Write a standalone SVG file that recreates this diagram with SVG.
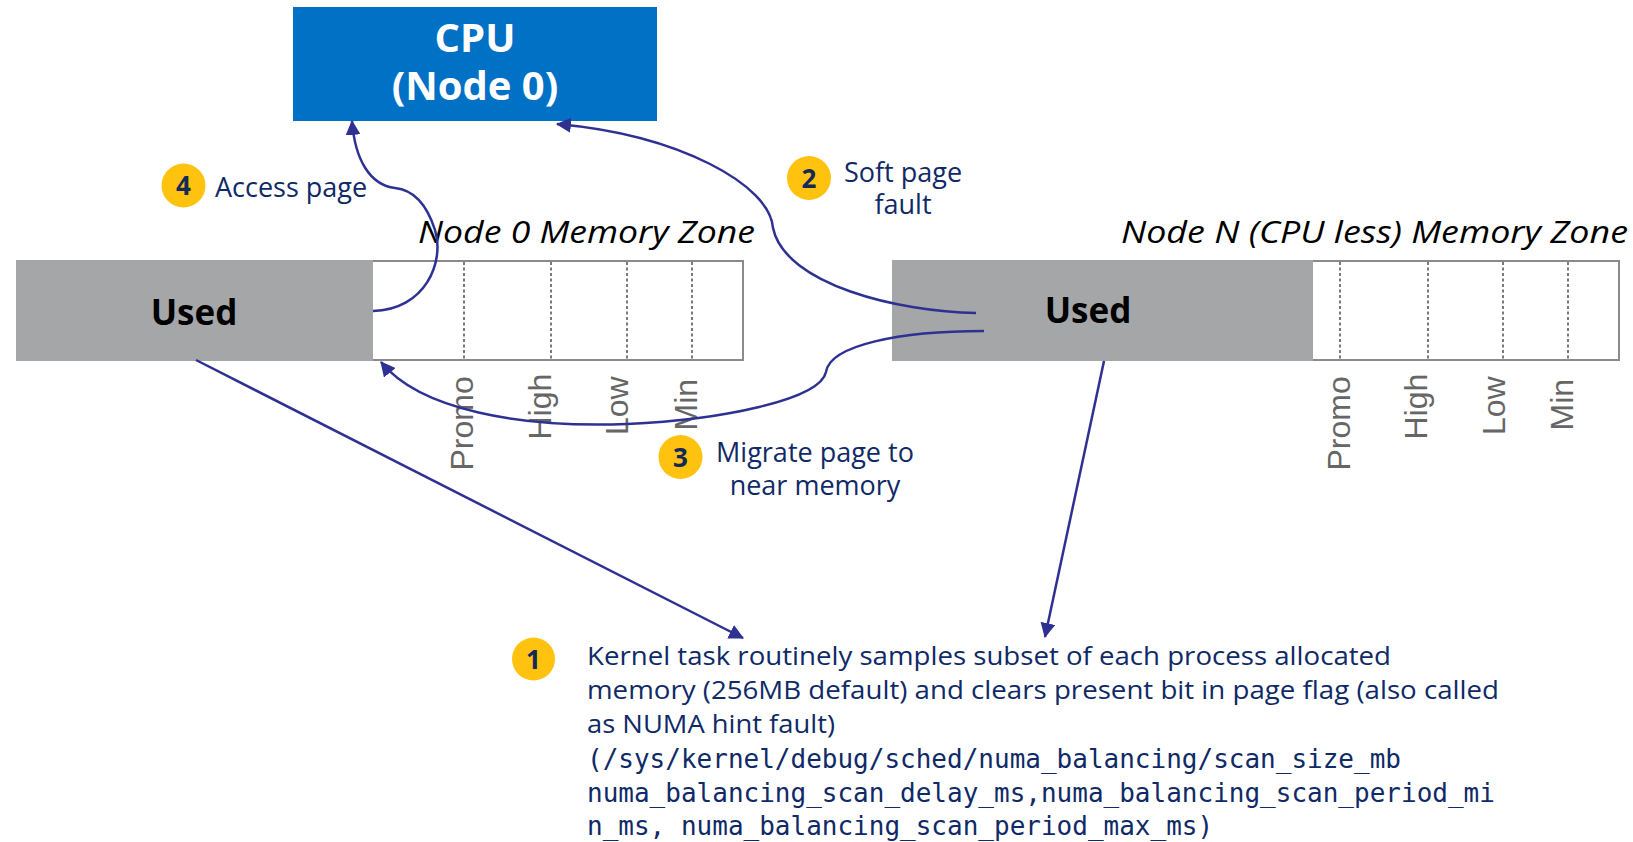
<svg xmlns="http://www.w3.org/2000/svg" width="1633" height="842" viewBox="0 0 1633 842">
  <style>
    .sans { font-family: "Open Sans", "Noto Sans", "Liberation Sans", sans-serif; }
    .mono { font-family: "DejaVu Sans Mono", "Liberation Mono", monospace; font-size: 26px; fill: #0f2a66; }
    .note { font-size: 27px; fill: #0f2a66; }
    .para { font-size: 26px; fill: #0f2a66; }
    .zone-title { font-size: 31px; font-style: italic; fill: #000; }
    .used-label { font-size: 35px; font-weight: 700; fill: #000; }
    .frame { fill: #fff; stroke: #8a8a8a; stroke-width: 2; }
    .used { fill: #a5a6a8; }
    .tick { stroke: #7a7a7a; stroke-width: 2; stroke-dasharray: 3 2.5; }
    .wm { font-family: "Liberation Sans", Arial, sans-serif; font-size: 32px; fill: #666; }
    .badge circle { fill: #ffc20e; }
    .badge text { font-size: 26px; font-weight: 700; fill: #14285a; text-anchor: middle; }
    .link { fill: none; stroke: #2e3192; stroke-width: 2.5; marker-end: url(#ah); }
  </style>
  <defs>
    <marker id="ah" markerUnits="userSpaceOnUse" markerWidth="15" markerHeight="15" viewBox="0 0 14 14" refX="13" refY="7" orient="auto">
      <path d="M0,0 L14,7 L0,14 z" fill="#2e3192"/>
    </marker>
  </defs>

  <rect width="1633" height="842" fill="#fff"/>

  <!-- CPU box -->
  <g id="cpu">
    <rect x="293" y="7" width="364" height="114" fill="#0071c5"/>
    <text class="sans" x="475" y="52" font-size="40" font-weight="700" fill="#fff" text-anchor="middle">CPU</text>
    <text class="sans" x="475" y="100" font-size="40" font-weight="700" fill="#fff" text-anchor="middle">(Node 0)</text>
  </g>

  <!-- Node 0 memory zone -->
  <g id="node0-zone">
    <text class="sans zone-title" x="755" y="243" text-anchor="end" textLength="337" lengthAdjust="spacingAndGlyphs">Node 0 Memory Zone</text>
    <rect class="frame" x="17" y="261" width="726" height="99"/>
    <rect class="used" x="16" y="260" width="357" height="101"/>
    <line class="tick" x1="464" y1="262" x2="464" y2="359"/>
    <line class="tick" x1="551" y1="262" x2="551" y2="359"/>
    <line class="tick" x1="627" y1="262" x2="627" y2="359"/>
    <line class="tick" x1="692" y1="262" x2="692" y2="359"/>
    <text class="sans used-label" x="194" y="325" text-anchor="middle">Used</text>
    <text class="wm" transform="translate(473 470.5) rotate(-90)">Promo</text>
    <text class="wm" transform="translate(551 439.5) rotate(-90)">High</text>
    <text class="wm" transform="translate(628 435) rotate(-90)">Low</text>
    <text class="wm" transform="translate(697 430.5) rotate(-90)">Min</text>
  </g>

  <!-- Node N (CPU-less) memory zone -->
  <g id="nodeN-zone">
    <text class="sans zone-title" x="1628" y="243" text-anchor="end" textLength="507" lengthAdjust="spacingAndGlyphs">Node N (CPU less) Memory Zone</text>
    <rect class="frame" x="893" y="261" width="726" height="99"/>
    <rect class="used" x="892" y="260" width="421" height="101"/>
    <line class="tick" x1="1340" y1="262" x2="1340" y2="359"/>
    <line class="tick" x1="1428" y1="262" x2="1428" y2="359"/>
    <line class="tick" x1="1503" y1="262" x2="1503" y2="359"/>
    <line class="tick" x1="1568" y1="262" x2="1568" y2="359"/>
    <text class="sans used-label" x="1088" y="323" text-anchor="middle">Used</text>
    <text class="wm" transform="translate(1350 470.5) rotate(-90)">Promo</text>
    <text class="wm" transform="translate(1427 439.5) rotate(-90)">High</text>
    <text class="wm" transform="translate(1505 435) rotate(-90)">Low</text>
    <text class="wm" transform="translate(1573 430.5) rotate(-90)">Min</text>
  </g>

  <!-- Connectors -->
  <g id="connectors">
    <!-- 1: sampling from both zones -->
    <line class="link" x1="196" y1="360" x2="743" y2="638"/>
    <line class="link" x1="1104" y1="361" x2="1045" y2="637"/>
    <!-- 2: soft page fault up to the CPU -->
    <path class="link" d="M976,313 C900,312 785,285 773,228 C770,185 680,135 557,124"/>
    <!-- 3: migrate page to near memory -->
    <path class="link" d="M984,331 C900,331 830,345 826,372 C820,400 720,420 627,424 C520,428 420,410 381,362"/>
    <!-- 4: access page -->
    <path class="link" d="M373,311 C425,310 445,262 435,230 C427,205 415,190 395,188 C370,185 355,160 352,121"/>
  </g>

  <!-- Step 1 -->
  <g id="step1">
    <g class="badge"><circle cx="533.5" cy="659" r="21.5"/><text class="sans" x="533.5" y="668.5">1</text></g>
    <text class="sans para" x="587" y="665" textLength="804" lengthAdjust="spacingAndGlyphs">Kernel task routinely samples subset of each process allocated</text>
    <text class="sans para" x="587" y="699" textLength="912" lengthAdjust="spacingAndGlyphs">memory (256MB default) and clears present bit in page flag (also called</text>
    <text class="sans para" x="587" y="733" textLength="248" lengthAdjust="spacingAndGlyphs">as NUMA hint fault)</text>
    <text class="mono" x="587" y="767.5">(/sys/kernel/debug/sched/numa_balancing/scan_size_mb</text>
    <text class="mono" x="587" y="801.5">numa_balancing_scan_delay_ms,numa_balancing_scan_period_mi</text>
    <text class="mono" x="587" y="835">n_ms, numa_balancing_scan_period_max_ms)</text>
  </g>

  <!-- Step 2 -->
  <g id="step2">
    <g class="badge"><circle cx="809" cy="178" r="22"/><text class="sans" x="809" y="187.5">2</text></g>
    <text class="sans note" x="903" y="182" text-anchor="middle">Soft page</text>
    <text class="sans note" x="903" y="214" text-anchor="middle">fault</text>
  </g>

  <!-- Step 3 -->
  <g id="step3">
    <g class="badge"><circle cx="680.5" cy="457" r="22"/><text class="sans" x="680.5" y="466.5">3</text></g>
    <text class="sans note" x="815" y="462" text-anchor="middle">Migrate page to</text>
    <text class="sans note" x="815" y="495" text-anchor="middle">near memory</text>
  </g>

  <!-- Step 4 -->
  <g id="step4">
    <g class="badge"><circle cx="183.5" cy="185.5" r="22"/><text class="sans" x="183.5" y="195">4</text></g>
    <text class="sans note" x="215" y="197">Access page</text>
  </g>
</svg>
